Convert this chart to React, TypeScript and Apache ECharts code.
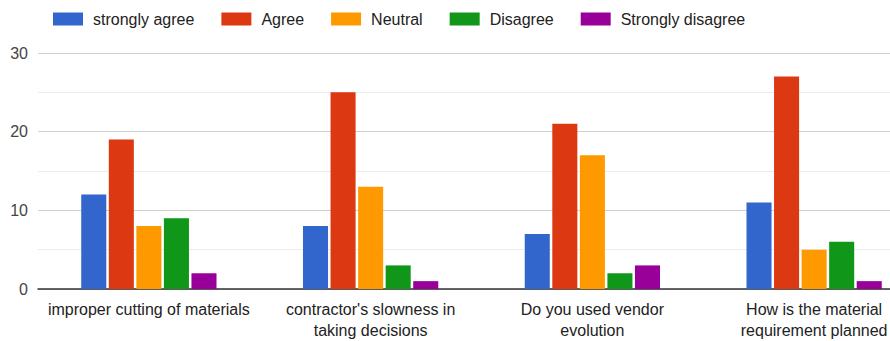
import React, { useEffect, useRef } from "react";
import * as echarts from "echarts";

const categories = [
  "improper cutting of materials",
  "contractor's slowness in\ntaking decisions",
  "Do you used vendor\nevolution",
  "How is the material\nrequirement planned",
];
const seriesNames = ["strongly agree", "Agree", "Neutral", "Disagree", "Strongly disagree"];
const stronglyAgree = [12, 8, 7, 11];
const agree = [19, 25, 21, 27];
const neutral = [8, 13, 17, 5];
const disagree = [9, 3, 2, 6];
const stronglyDisagree = [2, 1, 3, 1];
const colors = ["#3366cc", "#dc3912", "#ff9900", "#109618", "#990099"];

export default function App() {
  const ref = useRef<HTMLDivElement>(null);
  useEffect(() => {
    if (!ref.current) return;
    document.body.style.margin = "0";
    const chart = echarts.init(ref.current, undefined, { renderer: "svg" });
    const values = [stronglyAgree, agree, neutral, disagree, stronglyDisagree];
    chart.setOption({
      animation: false,
      textStyle: { fontFamily: "Liberation Sans, Arial, sans-serif" },
      legend: {
        left: 48,
        top: 6,
        itemWidth: 30,
        itemHeight: 13,
        itemGap: 27,
        icon: "rect",
        textStyle: { fontSize: 16, color: "#222", padding: [0, 0, 0, 5] },
        data: seriesNames,
      },
      grid: { left: 38, right: 0, top: 53, bottom: 50 },
      xAxis: {
        type: "category",
        data: categories,
        axisTick: { show: false },
        axisLine: { lineStyle: { color: "#333", width: 1.5 } },
        axisLabel: { fontSize: 16, color: "#222", margin: 10, lineHeight: 21, interval: 0 },
      },
      yAxis: {
        type: "value",
        min: 0,
        max: 30,
        interval: 10,
        axisLabel: { fontSize: 16, color: "#444", margin: 10 },
        splitLine: { lineStyle: { color: "#d0d0d0", width: 1 } },
        minorSplitLine: { show: true, lineStyle: { color: "#ececec" } },
        minorTick: { show: false, splitNumber: 2 },
      },
      series: seriesNames.map((name, i) => ({
        name,
        type: "bar",
        data: values[i],
        itemStyle: { color: colors[i] },
        barGap: "10%",
        barCategoryGap: "39%",
      })),
    });
    return () => chart.dispose();
  }, []);
  return (
    <div style={{ width: 890, height: 341, overflow: "hidden", position: "relative" }}>
      <div ref={ref} style={{ width: 925, height: 341 }} />
    </div>
  );
}
